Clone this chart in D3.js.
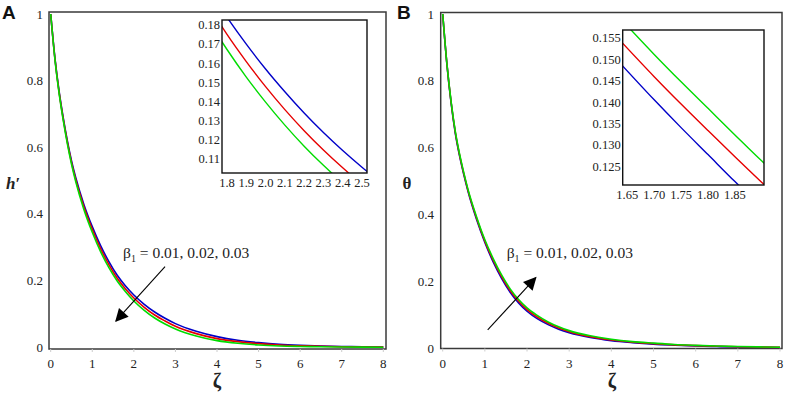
<!DOCTYPE html>
<html>
<head>
<meta charset="utf-8">
<script src="https://cdn.jsdelivr.net/npm/d3@7"></script>
<style>
  html, body { margin: 0; padding: 0; background: #fff; }
  svg { display: block; }
</style>
</head>
<body>
<svg id="chart" width="789" height="394"></svg>
<script>
// ---------------- DATA ----------------
const seriesLabels = ["β1 = 0.01", "β1 = 0.02", "β1 = 0.03"];
const seriesColors = ["#0000c8", "#e60000", "#00dc00"];

const zeta = [0, 0.1, 0.2, 0.3, 0.4, 0.5, 0.6, 0.8, 1.0, 1.2, 1.4, 1.6, 1.8, 2.0, 2.25, 2.5, 2.75, 3.0, 3.5, 4.0, 4.5, 5.0, 5.5, 6.0, 6.5, 7.0, 7.5, 8.0];

// Panel A : h'
const hBeta001 = [1.000, 0.870, 0.770, 0.690, 0.620, 0.560, 0.510, 0.428, 0.362, 0.305, 0.257, 0.216, 0.184, 0.157, 0.129, 0.106, 0.087, 0.071, 0.048, 0.032, 0.021, 0.014, 0.009, 0.006, 0.004, 0.0025, 0.0015, 0.001];
const hBeta002 = [1.000, 0.868, 0.767, 0.686, 0.616, 0.555, 0.504, 0.421, 0.354, 0.296, 0.248, 0.207, 0.175, 0.148, 0.120, 0.097, 0.079, 0.063, 0.041, 0.026, 0.017, 0.011, 0.007, 0.0045, 0.003, 0.0018, 0.001, 0.0006];
const hBeta003 = [1.000, 0.866, 0.764, 0.682, 0.611, 0.550, 0.498, 0.413, 0.345, 0.287, 0.239, 0.199, 0.167, 0.139, 0.111, 0.088, 0.070, 0.055, 0.034, 0.020, 0.012, 0.007, 0.004, 0.0025, 0.0015, 0.0009, 0.0005, 0.0003];

// Panel B : theta
const tBeta001 = [1.000, 0.849, 0.733, 0.642, 0.575, 0.519, 0.469, 0.386, 0.316, 0.257, 0.208, 0.167, 0.135, 0.110, 0.087, 0.070, 0.0565, 0.046, 0.0315, 0.022, 0.016, 0.0115, 0.0085, 0.006, 0.0045, 0.0032, 0.0023, 0.0016];
const tBeta002 = [1.000, 0.850, 0.735, 0.645, 0.578, 0.522, 0.472, 0.390, 0.320, 0.262, 0.213, 0.172, 0.140, 0.115, 0.092, 0.074, 0.060, 0.049, 0.034, 0.024, 0.0175, 0.013, 0.0095, 0.007, 0.0052, 0.0038, 0.0028, 0.002];
const tBeta003 = [1.000, 0.851, 0.737, 0.648, 0.581, 0.525, 0.475, 0.394, 0.324, 0.267, 0.218, 0.177, 0.145, 0.120, 0.097, 0.078, 0.0635, 0.052, 0.0365, 0.026, 0.019, 0.0145, 0.0105, 0.008, 0.006, 0.0044, 0.0033, 0.0024];

// Inset A
const insetZetaA = [1.75, 1.8, 1.9, 2.0, 2.1, 2.2, 2.3, 2.4, 2.5, 2.55];
const insetHBeta001 = [0.1914, 0.1840, 0.1700, 0.1570, 0.1451, 0.1340, 0.1238, 0.1144, 0.1057, 0.1016];
const insetHBeta002 = [0.1828, 0.1751, 0.1609, 0.1478, 0.1358, 0.1248, 0.1147, 0.1054, 0.0968, 0.0929];
const insetHBeta003 = [0.1749, 0.1672, 0.1528, 0.1397, 0.1277, 0.1167, 0.1067, 0.0975, 0.0891, 0.0852];

// Inset B
const insetZetaB = [1.64, 1.70, 1.75, 1.80, 1.85, 1.90, 1.92];
const insetTBeta001 = [0.1487, 0.1406, 0.1341, 0.1278, 0.1215, 0.1155, 0.1132];
const insetTBeta002 = [0.1540, 0.1460, 0.1396, 0.1334, 0.1273, 0.1213, 0.1190];
const insetTBeta003 = [0.1592, 0.1512, 0.1448, 0.1386, 0.1324, 0.1263, 0.1240];

// Tick labels
const mainXTicks = [0, 1, 2, 3, 4, 5, 6, 7, 8];
const mainYTicks = [0, 0.2, 0.4, 0.6, 0.8, 1];
const mainYTickLabels = ["0", "0.2", "0.4", "0.6", "0.8", "1"];
const insetAXTicks = [1.8, 1.9, 2.0, 2.1, 2.2, 2.3, 2.4, 2.5];
const insetAYTicks = [0.11, 0.12, 0.13, 0.14, 0.15, 0.16, 0.17, 0.18];
const insetBXTicks = [1.65, 1.70, 1.75, 1.80, 1.85];
const insetBYTicks = [0.125, 0.130, 0.135, 0.140, 0.145, 0.150, 0.155];

const annotationText = "0.01, 0.02, 0.03";

// ---------------- DRAW ----------------
const SERIF = "'Liberation Serif', 'Times New Roman', serif";
const SANS = "'Liberation Sans', Arial, sans-serif";
const svg = d3.select("#chart");
const defs = svg.append("defs");
defs.append("marker")
  .attr("id", "arrowhead")
  .attr("viewBox", "0 0 10 10")
  .attr("refX", 9).attr("refY", 5)
  .attr("markerUnits", "userSpaceOnUse")
  .attr("markerWidth", 15).attr("markerHeight", 13)
  .attr("orient", "auto")
  .append("path").attr("d", "M0,0 L10,5 L0,10 Z").attr("fill", "#000");

function txt(sel) {
  return sel.style("font-family", SERIF).style("fill", "#222");
}

function drawPanel(cfg) {
  const g = svg.append("g");
  const x = d3.scaleLinear().domain([0, 8]).range(cfg.xr);
  const y = d3.scaleLinear().domain([0, 1]).range(cfg.yr);

  g.append("rect")
    .attr("x", cfg.frame[0]).attr("y", cfg.frame[1])
    .attr("width", cfg.frame[2] - cfg.frame[0]).attr("height", cfg.frame[3] - cfg.frame[1])
    .attr("fill", "none").attr("stroke", "#3a3a3a").attr("stroke-width", 1.5);

  txt(g.selectAll(".xt").data(mainXTicks).enter().append("text")
    .attr("x", d => x(d)).attr("y", cfg.xLabelY)
    .attr("text-anchor", "middle").attr("font-size", 13)
    .text(d => d));
  g.selectAll(".xtm").data(mainXTicks).enter().append("line")
    .attr("x1", d => x(d)).attr("x2", d => x(d))
    .attr("y1", cfg.frame[3]).attr("y2", cfg.frame[3] + 3)
    .attr("stroke", "#ccc").attr("stroke-width", 1);

  txt(g.selectAll(".yt").data(mainYTicks).enter().append("text")
    .attr("x", cfg.yLabelX).attr("y", d => y(d) + 4.5)
    .attr("text-anchor", "end").attr("font-size", 13)
    .text((d, i) => mainYTickLabels[i]));

  const line = d3.line().x(d => x(d[0])).y(d => y(d[1])).curve(d3.curveMonotoneX);
  cfg.series.forEach((s, i) => {
    g.append("path")
      .datum(zeta.map((z, k) => [z, s[k]]))
      .attr("d", line)
      .attr("fill", "none")
      .attr("stroke", seriesColors[i])
      .attr("stroke-width", 1.6);
  });

  g.append("line")
    .attr("x1", x(cfg.arrow[0])).attr("y1", y(cfg.arrow[1]))
    .attr("x2", x(cfg.arrow[2])).attr("y2", y(cfg.arrow[3]))
    .attr("stroke", "#000").attr("stroke-width", 1.1)
    .attr("marker-end", "url(#arrowhead)");

  const t = txt(g.append("text")
    .attr("x", x(cfg.textPos[0])).attr("y", y(cfg.textPos[1]))
    .attr("font-size", 15.5));
  t.append("tspan").text("β");
  t.append("tspan").attr("font-size", 10).attr("dy", 4).text("1");
  t.append("tspan").attr("dy", -4).text(" = " + annotationText);

  txt(g.append("text").attr("x", cfg.xTitle[0]).attr("y", cfg.xTitle[1])
    .attr("text-anchor", "middle").attr("font-size", 20).attr("font-weight", "bold")
    .text("ζ"));
  const yt = txt(g.append("text").attr("x", cfg.yTitle[0]).attr("y", cfg.yTitle[1])
    .attr("text-anchor", "middle").attr("font-size", 17).attr("font-weight", "bold")
    .text(cfg.yTitleText));
  if (cfg.italic) yt.attr("font-style", "italic");

  svg.append("text").attr("x", cfg.letter[0]).attr("y", cfg.letter[1])
    .style("font-family", SANS)
    .attr("font-size", 19).attr("font-weight", "bold")
    .style("fill", "#111")
    .text(cfg.letterText);

  // inset
  const ins = cfg.inset;
  const ig = svg.append("g");
  const ix = d3.scaleLinear().domain(ins.xd).range([ins.box[0], ins.box[2]]);
  const iy = d3.scaleLinear().domain(ins.yd).range([ins.box[3], ins.box[1]]);
  const clipId = "clip" + cfg.letterText;
  defs.append("clipPath").attr("id", clipId).append("rect")
    .attr("x", ins.box[0]).attr("y", ins.box[1])
    .attr("width", ins.box[2] - ins.box[0]).attr("height", ins.box[3] - ins.box[1]);
  ig.append("rect")
    .attr("x", ins.box[0]).attr("y", ins.box[1])
    .attr("width", ins.box[2] - ins.box[0]).attr("height", ins.box[3] - ins.box[1])
    .attr("fill", "#fff");
  const iline = d3.line().x(d => ix(d[0])).y(d => iy(d[1])).curve(d3.curveMonotoneX);
  const lines = ig.append("g").attr("clip-path", `url(#${clipId})`);
  ins.series.forEach((s, i) => {
    lines.append("path")
      .datum(ins.z.map((z, k) => [z, s[k]]))
      .attr("d", iline)
      .attr("fill", "none")
      .attr("stroke", seriesColors[i])
      .attr("stroke-width", 1.4);
  });
  ig.append("rect")
    .attr("x", ins.box[0]).attr("y", ins.box[1])
    .attr("width", ins.box[2] - ins.box[0]).attr("height", ins.box[3] - ins.box[1])
    .attr("fill", "none").attr("stroke", "#111").attr("stroke-width", 1.4);
  txt(ig.selectAll(".ixt").data(ins.xt).enter().append("text")
    .attr("x", d => ix(d)).attr("y", ins.box[3] + 14)
    .attr("text-anchor", "middle").attr("font-size", 12.5)
    .text(d => d3.format(ins.xf)(d)));
  txt(ig.selectAll(".iyt").data(ins.yt).enter().append("text")
    .attr("x", ins.box[0] - 2).attr("y", d => iy(d) + 4.3)
    .attr("text-anchor", "end").attr("font-size", 12.5)
    .text(d => d3.format(ins.yf)(d)));
}

drawPanel({
  letterText: "A", letter: [2, 19],
  xr: [50.7, 383.3], yr: [347.3, 14],
  frame: [49, 12, 386, 349],
  xLabelY: 367.5, yLabelX: 43,
  series: [hBeta001, hBeta002, hBeta003],
  arrow: [2.75, 0.242, 1.57, 0.079],
  textPos: [1.74, 0.268],
  xTitle: [217, 388], yTitle: [13, 189], yTitleText: "h′", italic: true,
  inset: {
    box: [222, 20, 367, 173],
    xd: [1.774, 2.526], yd: [0.1027, 0.1826],
    z: insetZetaA, series: [insetHBeta001, insetHBeta002, insetHBeta003],
    xt: insetAXTicks, yt: insetAYTicks, xf: ".1f", yf: ".2f"
  }
});

drawPanel({
  letterText: "B", letter: [397, 19],
  xr: [442.7, 780], yr: [348, 14],
  frame: [440.7, 12.5, 782, 348.5],
  xLabelY: 367.5, yLabelX: 434,
  series: [tBeta001, tBeta002, tBeta003],
  arrow: [1.067, 0.054, 2.206, 0.2105],
  textPos: [1.518, 0.269],
  xTitle: [612, 388], yTitle: [407, 189], yTitleText: "θ", italic: false,
  inset: {
    box: [622.7, 30, 764, 185],
    xd: [1.6415, 1.904], yd: [0.1207, 0.1569],
    z: insetZetaB, series: [insetTBeta001, insetTBeta002, insetTBeta003],
    xt: insetBXTicks, yt: insetBYTicks, xf: ".2f", yf: ".3f"
  }
});
</script>
</body>
</html>
